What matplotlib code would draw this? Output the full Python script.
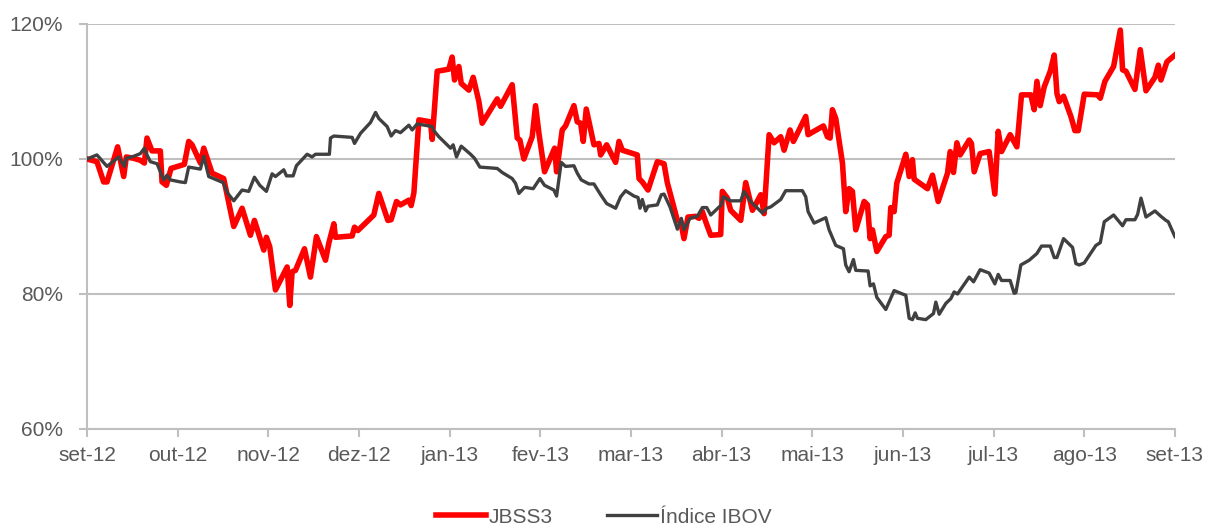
import matplotlib.pyplot as plt
from matplotlib.ticker import FuncFormatter

# posição em meses desde set-12 (0 = set-12, 12 = set-13) e valor em %
jbss3_t = [0.000, 0.110, 0.184, 0.221, 0.338, 0.405, 0.434, 0.515, 0.589, 0.633,
           0.662, 0.717, 0.809, 0.828, 0.876, 0.927, 1.049, 1.074, 1.122, 1.159,
           1.251, 1.288, 1.380, 1.508, 1.619, 1.711, 1.803, 1.847, 1.950, 1.979,
           2.016, 2.079, 2.208, 2.237, 2.263, 2.300, 2.399, 2.465, 2.531, 2.631,
           2.667, 2.723, 2.741, 2.925, 2.951, 2.988, 3.164, 3.219, 3.319, 3.355,
           3.414, 3.458, 3.550, 3.576, 3.606, 3.661, 3.789, 3.808, 3.863, 3.991,
           4.028, 4.054, 4.102, 4.128, 4.212, 4.260, 4.323, 4.359, 4.525, 4.562,
           4.690, 4.746, 4.775, 4.819, 4.911, 4.948, 4.985, 5.047, 5.158, 5.180,
           5.242, 5.279, 5.371, 5.408, 5.445, 5.474, 5.507, 5.592, 5.647, 5.666,
           5.732, 5.831, 5.868, 5.905, 6.070, 6.089, 6.125, 6.188, 6.291, 6.365,
           6.401, 6.512, 6.549, 6.585, 6.629, 6.714, 6.751, 6.788, 6.825, 6.880,
           6.990, 7.008, 7.064, 7.100, 7.211, 7.266, 7.340, 7.432, 7.469, 7.524,
           7.579, 7.652, 7.689, 7.755, 7.792, 7.928, 7.954, 8.123, 8.167, 8.197,
           8.222, 8.259, 8.333, 8.369, 8.406, 8.443, 8.480, 8.572, 8.609, 8.638,
           8.664, 8.712, 8.811, 8.848, 8.866, 8.903, 8.932, 9.032, 9.069, 9.105,
           9.124, 9.271, 9.326, 9.389, 9.492, 9.521, 9.558, 9.595, 9.631, 9.731,
           9.756, 9.786, 9.852, 9.951, 10.014, 10.051, 10.088, 10.183, 10.257, 10.308,
           10.411, 10.448, 10.478, 10.514, 10.559, 10.625, 10.669, 10.699, 10.724, 10.772,
           10.853, 10.897, 10.934, 11.000, 11.147, 11.177, 11.228, 11.324, 11.398, 11.423,
           11.460, 11.559, 11.618, 11.681, 11.780, 11.817, 11.846, 11.912, 12.000]
jbss3_v = [100.0, 99.6, 96.6, 96.6, 101.8, 97.4, 100.3, 100.1, 99.8, 99.4,
           103.1, 101.2, 101.2, 96.6, 96.1, 98.6, 99.1, 99.2, 102.6, 102.1,
           99.4, 101.6, 97.9, 97.1, 90.0, 92.7, 88.7, 90.9, 86.5, 88.4,
           87.0, 80.6, 84.0, 78.3, 83.3, 83.5, 86.7, 82.5, 88.5, 85.0,
           87.5, 90.4, 88.4, 88.6, 89.9, 89.4, 91.7, 94.9, 90.9, 91.0,
           93.7, 93.2, 93.9, 93.1, 95.0, 105.8, 105.5, 102.9, 113.0, 113.3,
           115.1, 111.7, 113.7, 111.2, 110.2, 112.1, 108.5, 105.3, 108.9, 107.8,
           111.0, 103.1, 102.8, 100.0, 103.3, 107.9, 103.8, 98.1, 101.6, 98.1,
           104.3, 104.9, 107.9, 105.5, 105.3, 102.6, 107.4, 102.1, 102.3, 100.6,
           102.1, 99.5, 102.6, 101.3, 100.6, 97.1, 96.6, 95.4, 99.6, 99.3,
           96.5, 90.9, 90.7, 88.2, 91.4, 91.5, 91.2, 92.2, 90.7, 88.7,
           88.8, 95.2, 94.2, 92.4, 90.9, 96.5, 92.4, 94.7, 91.9, 103.6,
           102.4, 103.3, 101.3, 104.3, 102.6, 106.3, 103.6, 104.9, 103.3, 103.1,
           107.3, 106.0, 99.4, 92.2, 95.6, 95.2, 89.5, 93.7, 93.2, 88.2,
           89.5, 86.3, 88.5, 88.7, 92.8, 92.2, 96.4, 100.7, 97.4, 99.9,
           97.0, 95.6, 97.6, 93.7, 97.9, 101.1, 98.0, 102.4, 100.6, 102.8,
           102.3, 98.1, 100.8, 101.1, 94.8, 104.1, 101.1, 103.6, 101.8, 109.5,
           109.5, 107.3, 111.5, 107.9, 110.7, 113.0, 115.4, 109.7, 108.5, 109.3,
           106.3, 104.2, 104.2, 109.6, 109.5, 109.0, 111.5, 113.7, 119.1, 113.2,
           113.0, 110.3, 116.2, 110.1, 112.1, 113.9, 111.7, 114.4, 115.4]

ibov_t = [0.000, 0.110, 0.221, 0.350, 0.412, 0.434, 0.515, 0.589, 0.633, 0.662,
          0.699, 0.773, 0.846, 0.883, 0.920, 1.030, 1.085, 1.122, 1.251, 1.288,
          1.343, 1.501, 1.553, 1.619, 1.711, 1.784, 1.847, 1.906, 1.979, 2.042,
          2.079, 2.171, 2.200, 2.274, 2.310, 2.428, 2.483, 2.520, 2.674, 2.686,
          2.723, 2.925, 2.951, 3.017, 3.127, 3.183, 3.219, 3.311, 3.355, 3.403,
          3.458, 3.550, 3.587, 3.642, 3.808, 3.826, 3.881, 4.010, 4.039, 4.076,
          4.128, 4.231, 4.275, 4.334, 4.525, 4.580, 4.690, 4.727, 4.764, 4.827,
          4.922, 4.996, 5.047, 5.150, 5.180, 5.231, 5.279, 5.371, 5.408, 5.452,
          5.537, 5.592, 5.666, 5.732, 5.831, 5.886, 5.941, 6.034, 6.078, 6.100,
          6.125, 6.162, 6.188, 6.291, 6.335, 6.365, 6.431, 6.512, 6.556, 6.585,
          6.651, 6.732, 6.788, 6.836, 6.880, 6.997, 7.019, 7.100, 7.211, 7.248,
          7.321, 7.450, 7.498, 7.542, 7.652, 7.707, 7.891, 7.928, 7.954, 8.020,
          8.149, 8.186, 8.259, 8.344, 8.369, 8.406, 8.454, 8.480, 8.616, 8.638,
          8.675, 8.712, 8.811, 8.903, 9.032, 9.069, 9.105, 9.135, 9.160, 9.252,
          9.337, 9.363, 9.400, 9.473, 9.528, 9.565, 9.602, 9.731, 9.779, 9.852,
          9.951, 10.014, 10.051, 10.088, 10.183, 10.227, 10.246, 10.301, 10.393, 10.478,
          10.529, 10.625, 10.669, 10.699, 10.772, 10.871, 10.908, 10.945, 11.000, 11.129,
          11.177, 11.221, 11.324, 11.423, 11.460, 11.559, 11.589, 11.626, 11.681, 11.780,
          11.846, 11.901, 11.927, 12.000]
ibov_v = [100.0, 100.6, 98.9, 100.3, 98.9, 100.1, 100.4, 100.8, 101.6, 100.6,
          99.6, 99.3, 96.9, 97.6, 96.9, 96.6, 96.5, 98.8, 98.5, 100.4,
          97.4, 96.5, 94.9, 93.8, 95.4, 95.2, 97.3, 96.1, 95.2, 97.8,
          97.4, 98.4, 97.5, 97.5, 99.0, 100.7, 100.3, 100.7, 100.7, 103.1,
          103.4, 103.2, 102.3, 103.8, 105.4, 106.9, 106.0, 104.8, 103.4, 104.2,
          103.9, 105.0, 104.3, 105.2, 104.8, 104.2, 103.3, 101.6, 102.1, 100.3,
          101.9, 100.7, 100.1, 98.8, 98.6, 98.0, 97.1, 96.4, 94.9, 95.8,
          95.6, 97.1, 96.1, 95.4, 94.5, 99.5, 98.9, 99.0, 97.9, 96.9,
          96.3, 96.3, 94.7, 93.4, 92.7, 94.4, 95.3, 94.5, 94.3, 92.7,
          94.0, 92.3, 93.0, 93.2, 94.7, 94.8, 92.9, 89.6, 91.2, 89.5,
          91.2, 91.5, 92.8, 92.8, 91.7, 93.2, 94.4, 93.8, 93.8, 95.2,
          93.7, 92.0, 92.7, 92.9, 94.0, 95.3, 95.3, 94.4, 92.2, 90.5,
          91.3, 89.5, 87.2, 86.7, 84.3, 83.3, 85.1, 83.5, 83.4, 81.2,
          81.5, 79.5, 77.7, 80.5, 79.8, 76.4, 76.2, 77.2, 76.4, 76.2,
          77.1, 78.8, 77.0, 78.6, 79.3, 80.3, 80.0, 82.5, 81.8, 83.6,
          83.1, 81.5, 82.9, 82.0, 82.0, 80.1, 80.2, 84.3, 85.0, 86.0,
          87.1, 87.1, 85.4, 85.4, 88.2, 86.9, 84.5, 84.3, 84.6, 87.2,
          87.6, 90.7, 91.7, 90.1, 91.0, 91.0, 91.8, 94.2, 91.4, 92.3,
          91.5, 90.9, 90.7, 88.5]

meses = ['set-12', 'out-12', 'nov-12', 'dez-12', 'jan-13', 'fev-13', 'mar-13',
         'abr-13', 'mai-13', 'jun-13', 'jul-13', 'ago-13', 'set-13']

plt.rcParams['font.family'] = ['Liberation Sans Narrow', 'Liberation Sans', 'DejaVu Sans']
cinza_txt = '#595959'
cinza_linha = '#BFBFBF'

fig = plt.figure(figsize=(12.08, 5.27), dpi=100)
ax = fig.add_axes([0.072, 0.186, 0.9006, 0.7685])

ax.plot(jbss3_t, jbss3_v, color='#FF0000', linewidth=4.0, label='JBSS3', zorder=3)
ax.plot(ibov_t, ibov_v, color='#404040', linewidth=2.4, label='Índice IBOV', zorder=4)

ax.set_xlim(0, 12)
ax.set_ylim(60, 120)
ax.set_xticks(range(len(meses)))
ax.set_xticklabels(meses)
ax.set_yticks([60, 80, 100, 120])
ax.yaxis.set_major_formatter(FuncFormatter(lambda v, p: f'{v:.0f}%'))

ax.grid(axis='y', color=cinza_linha, linewidth=1.5)
ax.set_axisbelow(True)
for lado in ['top', 'right']:
    ax.spines[lado].set_visible(False)
for lado in ['left', 'bottom']:
    ax.spines[lado].set_color(cinza_linha)
    ax.spines[lado].set_linewidth(1.5)

ax.tick_params(axis='both', colors=cinza_linha, labelcolor=cinza_txt,
               labelsize=15, width=1.5, length=6, direction='out')
ax.tick_params(axis='x', pad=6)
ax.tick_params(axis='y', pad=11)

fig.legend(loc='lower center', ncol=2, frameon=False, fontsize=15,
           labelcolor=cinza_txt, handlelength=2.4, handletextpad=0.15,
           columnspacing=2.6, bbox_to_anchor=(0.5, -0.035))

fig.savefig('out.png', dpi=100)
